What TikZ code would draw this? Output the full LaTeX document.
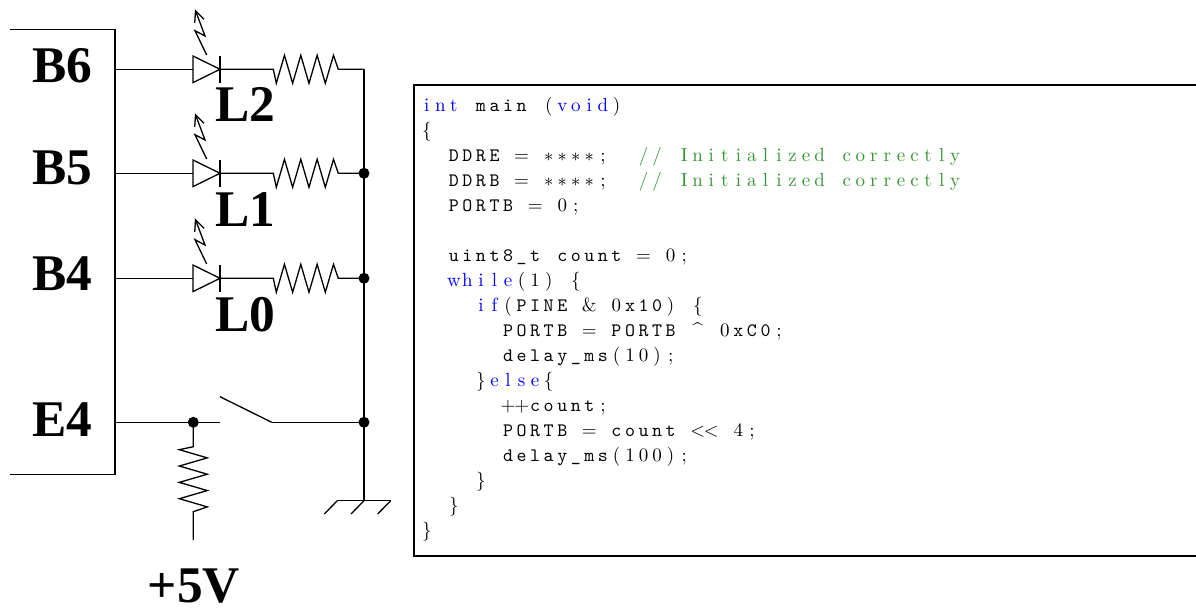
\documentclass[tikz,border=0pt]{standalone}
\usepackage{fontspec}
\usepackage{xcolor}
\usetikzlibrary{arrows.meta}
\newfontfamily\labelfont{Liberation Serif}
\definecolor{kwblue}{rgb}{0,0,1}
\definecolor{cmtgreen}{rgb}{0.2,0.58,0.2}
\newlength\codecolw
\setlength\codecolw{6.775pt}
\ExplSyntaxOn
\NewDocumentCommand\codecols{m}{\tl_map_inline:nn{#1}{\makebox[\codecolw]{##1}}}
\ExplSyntaxOff
\newcommand\codekw[1]{{\rmfamily\color{kwblue}\codecols{#1}}}
\newcommand\codeid[1]{{\ttfamily\codecols{#1}}}
\newcommand\codesym[1]{{\rmfamily\codecols{#1}}}
\newcommand\codecmt[1]{{\rmfamily\color{cmtgreen}\codecols{#1}}}
\newcommand\hzig{-- ++(3,14) -- ++(8.17,-28) -- ++(8.17,28) -- ++(8.17,-28) -- ++(8.17,28) -- ++(8.17,-28) -- ++(8.17,28) -- ++(8.17,-28) -- ++(4.8,14)}
\newcommand\vzig{-- ++(-14,3) -- ++(28,8.17) -- ++(-28,8.17) -- ++(28,8.17) -- ++(-28,8.17) -- ++(28,8.17) -- ++(-28,8.17) -- ++(28,8.17) -- ++(-14,4.8)}

\begin{document}
\begin{tikzpicture}[x=0.5pt,y=-0.5pt,
    wire/.style={line width=0.65pt},
    dot/.style={circle,fill,inner sep=0,minimum size=5.5pt},
    pinlabel/.style={font=\labelfont\bfseries\fontsize{25.7}{30}\selectfont,inner sep=0,anchor=base},
    codeline/.style={anchor=base west,inner sep=0,font=\fontsize{9.5}{11}\selectfont},
    glow/.style={wire,-{Straight Barb[length=5.5pt,width=5pt]}}]
  \useasboundingbox (0,0) rectangle (1196,610);

  % microcontroller
  \draw[wire] (10,29.3) -- (115,29.3) -- (115,474.3) -- (10,474.3); % chip outline
  \coordinate (b6) at (115,69.3);
  \coordinate (b5) at (115,173.3);
  \coordinate (b4) at (115,278.3);
  \coordinate (e4) at (115,422.3);
  \node[pinlabel] (pb6) at (62.5,82.7) {B6};
  \node[pinlabel] (pb5) at (62.5,185) {B5};
  \node[pinlabel] (pb4) at (62.5,291) {B4};
  \node[pinlabel] (pe4) at (62.5,436.7) {E4};

  % LEDs
  \coordinate (d2a) at (193,69.3);  \coordinate (d2k) at (220,69.3);
  \coordinate (d1a) at (193,173.3); \coordinate (d1k) at (220,173.3);
  \coordinate (d0a) at (193,278.3); \coordinate (d0k) at (220,278.3);
  \coordinate (r2) at (273.3,69.3);
  \coordinate (r1) at (273.3,173.3);
  \coordinate (r0) at (273.3,278.3);
  \coordinate (n2) at (364,69.3);
  \coordinate (n1) at (364,173.3);
  \coordinate (n0) at (364,278.3);

  \draw[wire] (b6) -- (d2a); % B6 -> L2
  \draw[wire] (d2a) ++(0,-13.3) -- ++(0,26.6) -- (d2k) -- cycle;
  \draw[wire] (d2k) ++(0,-13.3) -- ++(0,26.6);
  \draw[glow] (d2k) ++(-13.3,-14.3) -- ++(-11.7,-24.3) -- ++(10,5.3) -- ++(-10,-26.7);
  \draw[wire] (d2k) -- (r2) \hzig -- (n2);
  \node[pinlabel] (l2) at (245.5,121.7) {L2};

  \draw[wire] (b5) -- (d1a); % B5 -> L1
  \draw[wire] (d1a) ++(0,-13.3) -- ++(0,26.6) -- (d1k) -- cycle;
  \draw[wire] (d1k) ++(0,-13.3) -- ++(0,26.6);
  \draw[glow] (d1k) ++(-13.3,-14.3) -- ++(-11.7,-24.3) -- ++(10,5.3) -- ++(-10,-26.7);
  \draw[wire] (d1k) -- (r1) \hzig -- (n1);
  \node[pinlabel] (l1) at (245.5,226.7) {L1};

  \draw[wire] (b4) -- (d0a); % B4 -> L0
  \draw[wire] (d0a) ++(0,-13.3) -- ++(0,26.6) -- (d0k) -- cycle;
  \draw[wire] (d0k) ++(0,-13.3) -- ++(0,26.6);
  \draw[glow] (d0k) ++(-13.3,-14.3) -- ++(-11.7,-24.3) -- ++(10,5.3) -- ++(-10,-26.7);
  \draw[wire] (d0k) -- (r0) \hzig -- (n0);
  \node[pinlabel] (l0) at (245.5,331.7) {L0};

  % switch and pull-up
  \coordinate (pu) at (193.3,422.3);
  \coordinate (swa) at (220,422.3);
  \coordinate (swb) at (271.7,422.3);
  \coordinate (nsw) at (364,422.3);
  \coordinate (vcc) at (193.3,540);
  \coordinate (gnd) at (364,500.7);
  \draw[wire] (e4) -- (pu) -- (swa);
  \draw[wire] (swa) ++(0,-25.6) -- (swb); % blade
  \draw[wire] (swb) -- (nsw);
  \draw[wire] (pu) -- ++(0,24.4) \vzig -- (vcc);
  \node[pinlabel] (p5v) at (194,602.5) {+5V};

  % common line to ground
  \draw[wire] (n2) -- (n1) -- (n0) -- (nsw) -- (gnd);
  \draw[wire] (gnd) ++(-26.7,0) -- ++(53.4,0);
  \foreach \dx in {-26.7,0,26.7}
    \draw[wire] (gnd) ++(\dx,0) -- ++(-13,13.3);
  \node[dot] (j1) at (n1) {};
  \node[dot] (j0) at (n0) {};
  \node[dot] (jsw) at (nsw) {};
  \node[dot] (jpu) at (pu) {};

  % program listing
  \draw[line width=1pt] (1200,85) -- (414,85) -- (414,555.5) -- (1200,555.5);
  \node[codeline] (c0) at (419.6,111.7) {\codekw{int}\codesym{~}\codeid{main}\codesym{~(}\codekw{void}\codesym{)}};
  \node[codeline] (c1) at (419.6,136.7) {\codesym{\{}};
  \node[codeline] (c2) at (446.7,161.7) {\codeid{DDRE}\codesym{~=~{$\ast$}{$\ast$}{$\ast$}{$\ast$};~~}\codecmt{//~Initialized~correctly}};
  \node[codeline] (c3) at (446.7,186.7) {\codeid{DDRB}\codesym{~=~{$\ast$}{$\ast$}{$\ast$}{$\ast$};~~}\codecmt{//~Initialized~correctly}};
  \node[codeline] (c4) at (446.7,211.7) {\codeid{PORTB}\codesym{~=~0;}};
  \node[codeline] (c6) at (446.7,261.7) {\codeid{uint8\_t}\codesym{~}\codeid{count}\codesym{~=~0;}};
  \node[codeline] (c7) at (446.7,286.7) {\codekw{while}\codesym{(1)~\{}};
  \node[codeline] (c8) at (473.8,311.7) {\codekw{if}\codesym{(}\codeid{PINE}\codesym{~\&~0}\codeid{x10}\codesym{)~\{}};
  \node[codeline] (c9) at (500.9,336.7) {\codeid{PORTB}\codesym{~=~}\codeid{PORTB}\codesym{~\textasciicircum~0}\codeid{xC0}\codesym{;}};
  \node[codeline] (c10) at (500.9,361.7) {\codeid{delay\_ms}\codesym{(10);}};
  \node[codeline] (c11) at (473.8,386.7) {\codesym{\}}\codekw{else}\codesym{\{}};
  \node[codeline] (c12) at (500.9,411.7) {\codesym{++}\codeid{count}\codesym{;}};
  \node[codeline] (c13) at (500.9,436.7) {\codeid{PORTB}\codesym{~=~}\codeid{count}\codesym{~<<~4;}};
  \node[codeline] (c14) at (500.9,461.7) {\codeid{delay\_ms}\codesym{(100);}};
  \node[codeline] (c15) at (473.8,486.7) {\codesym{\}}};
  \node[codeline] (c16) at (446.7,511.7) {\codesym{\}}};
  \node[codeline] (c17) at (419.6,536.7) {\codesym{\}}};
\end{tikzpicture}
\end{document}
